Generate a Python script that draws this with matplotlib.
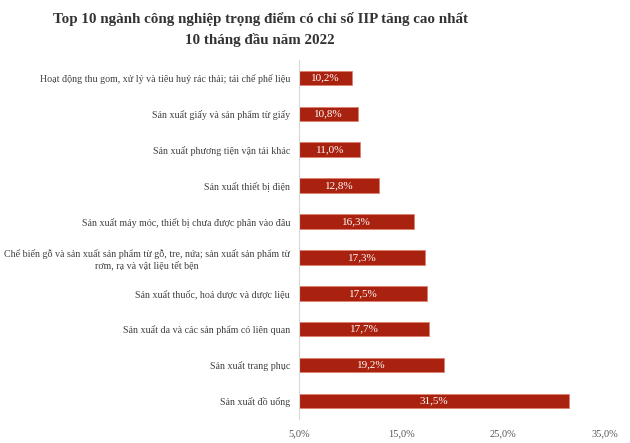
import matplotlib
matplotlib.use("Agg")
from matplotlib import pyplot as plt
import numpy as np

categories = [
    "Hoạt động thu gom, xử lý và tiêu huỷ rác thải; tái chế phế liệu",
    "Sản xuất giấy và sản phẩm từ giấy",
    "Sản xuất phương tiện vận tải khác",
    "Sản xuất thiết bị điện",
    "Sản xuất máy móc, thiết bị chưa được phân vào đâu",
    "Chế biến gỗ và sản xuất sản phẩm từ gỗ, tre, nứa; sản xuất sản phẩm từ\nrơm, rạ và vật liệu tết bện",
    "Sản xuất thuốc, hoá dược và dược liệu",
    "Sản xuất da và các sản phẩm có liên quan",
    "Sản xuất trang phục",
    "Sản xuất đồ uống",
]
values = [10.2, 10.8, 11.0, 12.8, 16.3, 17.3, 17.5, 17.7, 19.2, 31.5]
xticks = [5, 15, 25, 35]

plt.rcParams['font.family'] = ['Liberation Serif', 'DejaVu Serif']

fig = plt.figure(figsize=(6.3, 4.43), dpi=100)
ax = fig.add_axes([0.475, 0.054, 0.485, 0.811])

y = np.arange(len(categories))
base = 5.0
bars = ax.barh(y, [v - base for v in values], left=base, height=0.4,
               color='#A9220F', edgecolor='#E08070', linewidth=0.6)

for yi, v in zip(y, values):
    ax.text(base + (v - base) / 2, yi, f"{v:.1f}%".replace('.', ','),
            ha='center', va='center', color='white', fontsize=8)

ax.set_yticks(y)
ax.set_yticklabels(categories, fontsize=7.2, color='#404040', ha='right')
for lbl in ax.get_yticklabels():
    lbl.set_multialignment('center')
ax.set_ylim(len(categories) - 0.5, -0.5)
ax.set_xlim(5, 35)
ax.set_xticks(xticks)
ax.set_xticklabels([f"{t:.1f}%".replace('.', ',') for t in xticks], fontsize=7.5, color='#555555')
ax.tick_params(axis='both', length=0)
ax.tick_params(axis='y', pad=6.5)
ax.tick_params(axis='x', pad=7)
for s in ['top', 'right', 'bottom']:
    ax.spines[s].set_visible(False)
ax.spines['left'].set_color('#D9D9D9')
ax.spines['left'].set_linewidth(0.8)

fig.text(0.413, 0.972, "Top 10 ngành công nghiệp trọng điểm có chỉ số IIP tăng cao nhất\n10 tháng đầu năm 2022",
         ha='center', va='top', fontsize=10.8, fontweight='bold', color='#333333', linespacing=1.6)

plt.savefig('out.png', dpi=100)
